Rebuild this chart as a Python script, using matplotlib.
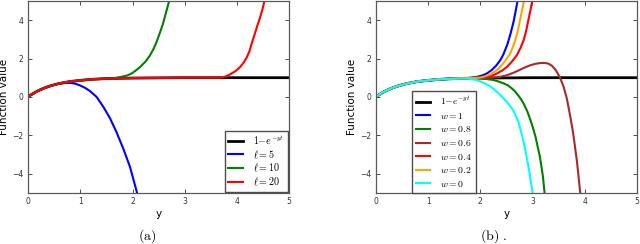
import matplotlib
matplotlib.use("Agg")
import numpy as np
import matplotlib.pyplot as plt

plt.rcParams['mathtext.fontset'] = 'cm'
plt.rcParams['font.family'] = ['DejaVu Sans']

# black reference curve (both panels)
ref_x = [0, 0.05, 0.1, 0.15, 0.2, 0.3, 0.4, 0.5, 0.6, 0.7, 0.8, 0.9, 1.0, 1.2, 1.4,
         1.6, 1.8, 2.0, 2.5, 3.0, 3.5, 4.0, 5.0]
ref_y = [0, 0.10, 0.18, 0.26, 0.33, 0.45, 0.55, 0.63, 0.70, 0.75, 0.80, 0.83, 0.86,
         0.91, 0.94, 0.96, 0.97, 0.98, 0.99, 1.0, 1.0, 1.0, 1.0]

# panel (a)
l5_x = [0, 0.05, 0.1, 0.15, 0.2, 0.3, 0.4, 0.5, 0.6, 0.7, 0.8, 0.9, 0.99, 1.09, 1.18,
        1.31, 1.44, 1.57, 1.69, 1.82, 1.95, 2.08, 2.1]
l5_y = [0, 0.10, 0.18, 0.26, 0.33, 0.45, 0.55, 0.63, 0.69, 0.72, 0.73, 0.69, 0.60,
        0.47, 0.31, 0.0, -0.52, -1.13, -1.83, -2.69, -3.65, -4.95, -5.2]
l10_tail_x = [1.8, 1.9, 1.98, 2.05, 2.14, 2.25, 2.33, 2.4, 2.45, 2.53, 2.58, 2.62, 2.66, 2.70, 2.72]
l10_tail_y = [1.05, 1.12, 1.22, 1.35, 1.55, 1.85, 2.15, 2.5, 2.8, 3.4, 3.8, 4.2, 4.6, 5.0, 5.2]
l20_tail_x = [3.68, 3.78, 3.87, 3.97, 4.06, 4.13, 4.19, 4.24, 4.28, 4.33, 4.38, 4.43, 4.48, 4.53]
l20_tail_y = [1.0, 1.06, 1.18, 1.34, 1.56, 1.8, 2.08, 2.4, 2.78, 3.2, 3.64, 4.05, 4.5, 5.05]
ell_labels = [r'$\ell=5$', r'$\ell=10$', r'$\ell=20$']

# panel (b): tails after the common part (common part = ref curve)
w_labels = [r'$w=1$', r'$w=0.8$', r'$w=0.6$', r'$w=0.4$', r'$w=0.2$', r'$w=0$']
w1_x = [1.8, 1.93, 2.02, 2.12, 2.22, 2.31, 2.38, 2.44, 2.52, 2.58, 2.64, 2.70, 2.72]
w1_y = [0.99, 1.04, 1.1, 1.21, 1.4, 1.65, 1.9, 2.2, 2.75, 3.3, 3.95, 4.8, 5.1]
w08_x = [1.8, 2.0, 2.12, 2.25, 2.35, 2.45, 2.53, 2.6, 2.66, 2.72, 2.78, 2.83, 2.9,
         2.96, 3.01, 3.06, 3.1, 3.14, 3.17, 3.2, 3.23, 3.24]
w08_y = [0.97, 0.96, 0.93, 0.88, 0.8, 0.7, 0.6, 0.45, 0.3, 0.1, -0.12, -0.35, -0.75,
         -1.2, -1.62, -2.1, -2.6, -3.1, -3.6, -4.15, -4.95, -5.3]
w06_x = [1.8, 2.0, 2.2, 2.37, 2.5, 2.63, 2.75, 2.85, 2.95, 3.05, 3.14, 3.22, 3.3,
         3.37, 3.45, 3.53, 3.6, 3.66, 3.72, 3.78, 3.85, 3.91, 3.93]
w06_y = [0.98, 0.99, 1.0, 1.04, 1.12, 1.25, 1.4, 1.53, 1.64, 1.72, 1.76, 1.77, 1.74,
         1.63, 1.38, 1.0, 0.5, -0.1, -0.95, -1.9, -3.3, -4.86, -5.3]
w04_x = [1.8, 2.06, 2.2, 2.31, 2.42, 2.51, 2.6, 2.70, 2.77, 2.83, 2.88, 2.92, 2.96, 3.0]
w04_y = [0.98, 1.0, 1.08, 1.21, 1.37, 1.56, 1.82, 2.17, 2.55, 2.95, 3.45, 3.99, 4.5, 5.05]
w02_x = [1.8, 1.99, 2.1, 2.19, 2.29, 2.38, 2.48, 2.57, 2.62, 2.67, 2.72, 2.76, 2.8, 2.84]
w02_y = [0.98, 1.0, 1.08, 1.18, 1.35, 1.56, 1.88, 2.25, 2.58, 2.95, 3.45, 3.99, 4.5, 5.05]
w0_x = [1.75, 1.9, 1.99, 2.1, 2.18, 2.25, 2.33, 2.4, 2.47, 2.55, 2.63, 2.68, 2.73,
        2.78, 2.83, 2.88, 2.92, 2.96, 3.0, 3.02]
w0_y = [0.95, 0.9, 0.82, 0.68, 0.56, 0.42, 0.24, 0.05, -0.15, -0.4, -0.7, -0.98,
        -1.3, -1.8, -2.35, -3.0, -3.6, -4.25, -4.95, -5.3]


def common(xs, ys, upto):
    cx = [x for x in ref_x if x < upto]
    cy = [y for x, y in zip(ref_x, ref_y) if x < upto]
    return cx + list(xs), cy + list(ys)


def style_axes(ax):
    ax.set_xlim(0, 5)
    ax.set_ylim(-5, 5)
    ax.set_xticks([0, 1, 2, 3, 4, 5])
    ax.set_yticks([-4, -2, 0, 2, 4])
    ax.tick_params(direction='in', top=True, right=True, length=3, width=0.6,
                   labelsize=5.5, colors='0.2')
    ax.tick_params(axis='x', pad=3)
    ax.tick_params(axis='y', pad=3.5)
    for s in ax.spines.values():
        s.set_color('0.35')
        s.set_linewidth(0.9)
    ax.set_xlabel('y', fontsize=7.5, labelpad=2)
    ax.set_ylabel('Function value', fontsize=7.5, labelpad=2)


def style_legend(leg):
    leg.get_frame().set_edgecolor('0.3')
    leg.get_frame().set_linewidth(1.0)


fig = plt.figure(figsize=(6.4, 2.44), dpi=100)
ax1 = fig.add_axes([0.044, 0.210, 0.408, 0.786])
ax2 = fig.add_axes([0.5875, 0.210, 0.4075, 0.786])

# (a)
ax1.plot(ref_x, ref_y, color='black', lw=2, label=r'$1{-}e^{-yt}$')
ax1.plot(l5_x, l5_y, color='blue', lw=1.5, label=ell_labels[0])
x, y = common(l10_tail_x, l10_tail_y, 1.8)
ax1.plot(x, y, color='green', lw=1.5, label=ell_labels[1])
x, y = common(l20_tail_x, l20_tail_y, 3.68)
ax1.plot(x, y, color='red', lw=1.5, label=ell_labels[2])
style_axes(ax1)
leg = ax1.legend(loc='lower right', fontsize=7.2, borderaxespad=0.1,
                 handlelength=1.5, handletextpad=1.0, labelspacing=0.15,
                 borderpad=0.35, fancybox=False, framealpha=1)
style_legend(leg)

# (b)
ax2.plot(ref_x, ref_y, color='black', lw=2, label=r'$1{-}e^{-yt}$')
series = [(w1_x, w1_y, 'blue'), (w08_x, w08_y, 'green'), (w06_x, w06_y, 'brown'),
          (w04_x, w04_y, 'red'), (w02_x, w02_y, 'orange'), (w0_x, w0_y, 'cyan')]
for (sx, sy, c), lab in zip(series, w_labels):
    x, y = common(sx, sy, sx[0])
    ax2.plot(x, y, color=c, lw=1.5, label=lab)
style_axes(ax2)
leg = ax2.legend(loc='lower left', bbox_to_anchor=(0.137, 0.0), fontsize=7.0,
                 borderaxespad=0.0, handlelength=1.5, handletextpad=1.0,
                 labelspacing=0.37, fancybox=False, framealpha=1)
style_legend(leg)

fig.text(147 / 640, 1 - 236 / 244, r'$\mathrm{(a)}$', fontsize=10, ha='center', va='center')
fig.text(494 / 640, 1 - 236 / 244, r'$\mathrm{(b)\ .}$', fontsize=10, ha='center', va='center')

fig.savefig('out.png', dpi=100)
